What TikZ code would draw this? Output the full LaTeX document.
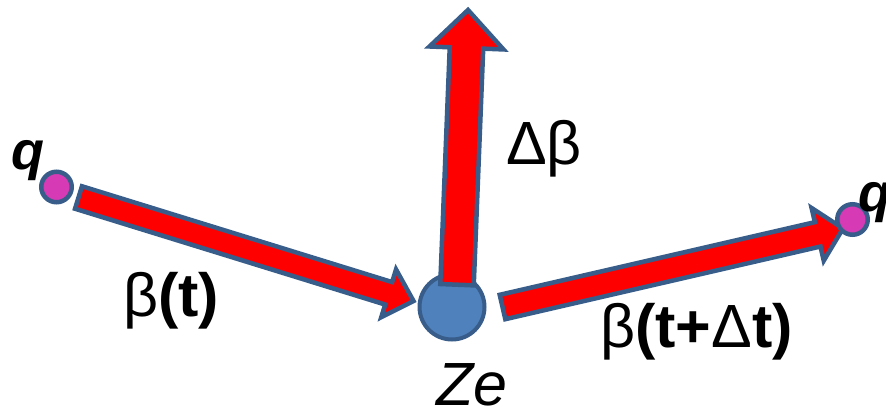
\documentclass[tikz,border=0pt]{standalone}
\usepackage{fontspec}
\setmainfont{Liberation Sans}
\usetikzlibrary{calc}
\definecolor{arrowred}{RGB}{255,0,0}
\definecolor{edgeblue}{RGB}{56,93,138}
\definecolor{zefill}{RGB}{79,129,189}
\definecolor{qpink}{RGB}{214,58,180}
\tikzset{
  arrowbody/.style={fill=arrowred, draw=edgeblue, line width=4.5pt, line join=miter},
  ionball/.style={circle, fill=zefill, draw=edgeblue, line width=4pt, minimum size=65pt, inner sep=0pt},
  chargeball/.style={circle, fill=qpink, draw=edgeblue, line width=4.5pt, minimum size=30.5pt, inner sep=0pt},
  lbl/.style={inner sep=0pt, anchor=base west, font=\fontsize{61}{70}\selectfont},
  qlbl/.style={inner sep=0pt, anchor=base west, font=\fontsize{54}{64}\selectfont\bfseries\itshape},
}
% #1 start, #2 tip, #3 half shaft width, #4 half head width, #5 head length, #6 name
\newcommand\drawblockarrow[6]{%
  \coordinate (#6b) at ($(#2)!#5!(#1)$);
  \filldraw[arrowbody] ($(#1)!#3!90:(#2)$) -- ($(#6b)!#3!90:(#2)$) -- ($(#6b)!#4!90:(#2)$)
    -- (#2) -- ($(#6b)!#4!-90:(#2)$) -- ($(#6b)!#3!-90:(#2)$) -- ($(#1)!#3!-90:(#2)$) -- cycle;
}
\begin{document}
\begin{tikzpicture}[x=1pt,y=-1pt]
\useasboundingbox (0,0) rectangle (886,411);
\clip (0,0) rectangle (886,411);
% ion
\node[ionball] (ze) at (452,307) {};
% arrow end points
\coordinate (ls) at (78.5,197.5);
\coordinate (lt) at (413.5,301);
\coordinate (us) at (457,284.7);
\coordinate (ut) at (468,10);
\coordinate (rs) at (502.5,307);
\coordinate (rt) at (843,228.5);
\drawblockarrow{ls}{lt}{11.75pt}{25pt}{26pt}{la}
\drawblockarrow{us}{ut}{16.75pt}{37pt}{38pt}{ua}
\drawblockarrow{rs}{rt}{12.5pt}{27pt}{26pt}{ra}
% charges
\node[chargeball] (q1) at (56.5,187) {};
\node[chargeball] (q2) at (852.5,219.5) {};
% labels
\node[qlbl] (q1l) at (11,170) {q};
\node[qlbl] (q2l) at (858,212) {q};
\node[lbl] (bt) at (123,317) {β\textbf{(t)}};
\node[lbl] (btdt) at (600,348) {β\textbf{(t+}Δ\textbf{t)}};
\node[lbl] (db) at (506,165) {Δβ};
\node[lbl] (zel) at (436,406) {\itshape Ze};
\end{tikzpicture}
\end{document}
